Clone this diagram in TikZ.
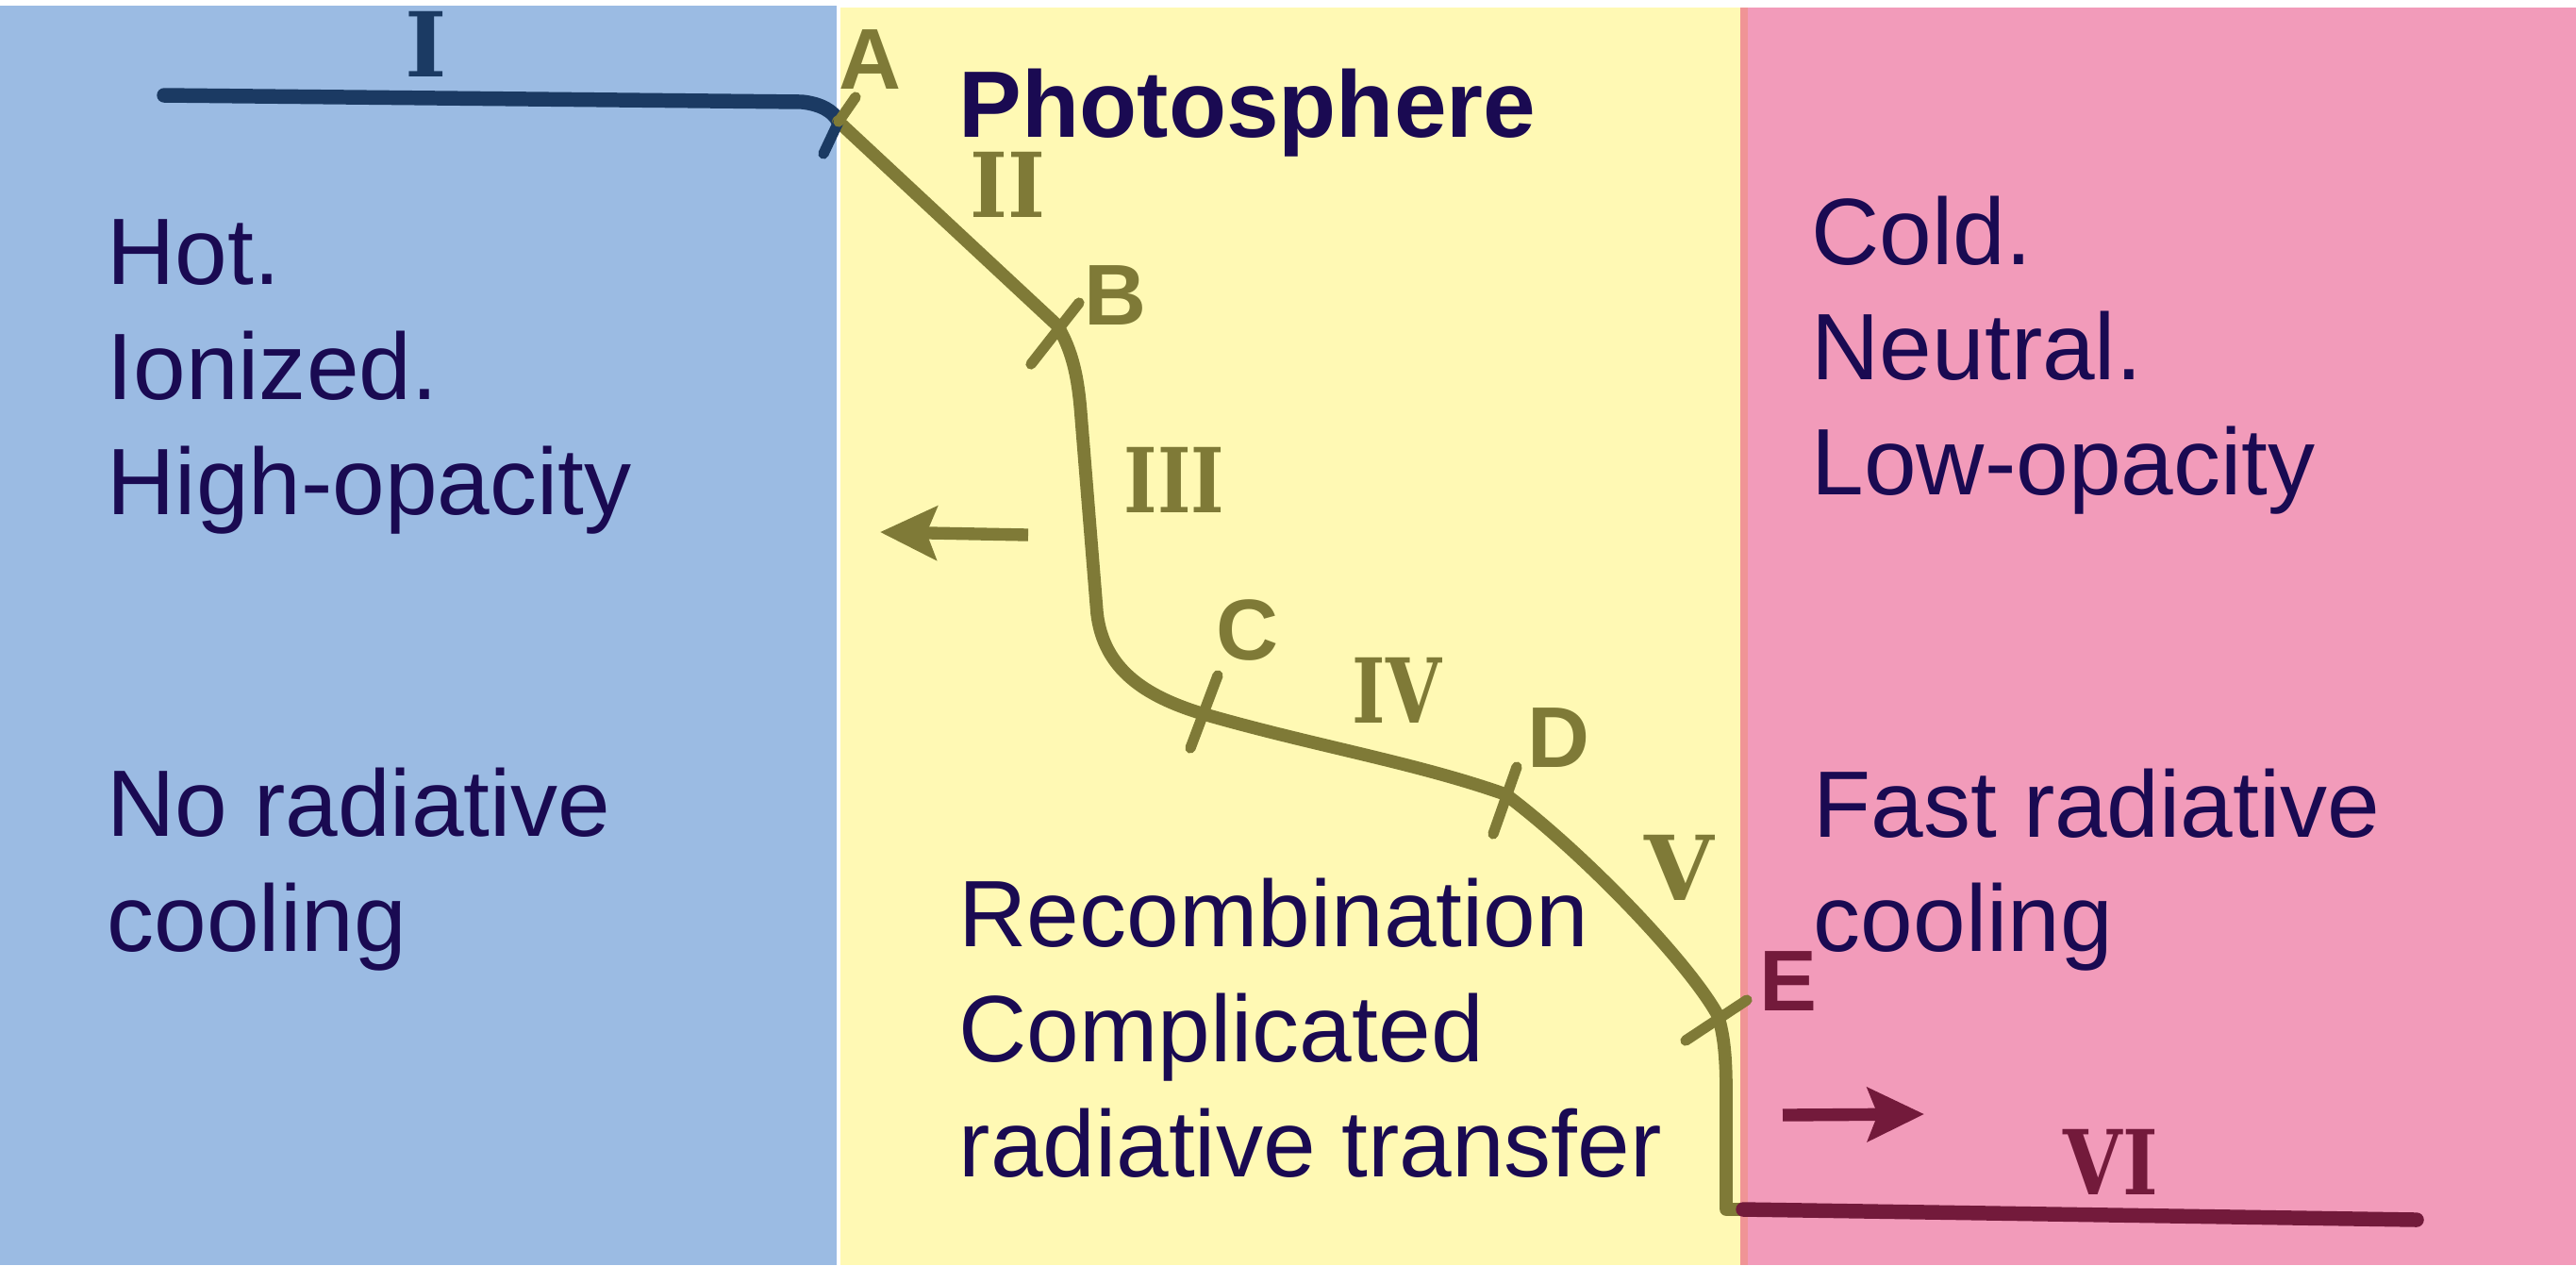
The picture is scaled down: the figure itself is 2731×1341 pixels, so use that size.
\documentclass[tikz,border=0pt]{standalone}
\usepackage{fontspec}
\newfontfamily\txtfont{Liberation Sans}
\newfontfamily\numfont{DejaVu Serif}
\usetikzlibrary{arrows.meta}
\definecolor{bgblue}{RGB}{155,187,227}
\definecolor{bgyellow}{RGB}{255,249,180}
\definecolor{bgpink}{RGB}{242,155,186}
\definecolor{edgesalmon}{RGB}{240,148,150}
\definecolor{curveolive}{RGB}{127,122,55}
\definecolor{lineblue}{RGB}{27,58,99}
\definecolor{curvemaroon}{RGB}{115,26,59}
\definecolor{textnavy}{RGB}{26,10,82}
\begin{document}
\begin{tikzpicture}[x=0.01cm,y=-0.01cm,
  txt/.style={anchor=base west, inner sep=0pt, text=textnavy, font=\txtfont\fontsize{28.45pt}{34pt}\selectfont},
  ptlabel/.style={inner sep=0pt, font=\txtfont\bfseries\fontsize{26pt}{30pt}\selectfont},
  numlabel/.style={inner sep=0pt, font=\numfont\bfseries\fontsize{27pt}{30pt}\selectfont},
  curve/.style={line width=3.9pt, line cap=round, line join=round},
  tickmark/.style={line width=3.2pt, line cap=round},
  arr/.style={line width=3.8pt, -{Stealth[length=17pt,width=16pt,inset=3pt]}}]
\useasboundingbox (0,0) rectangle (2731,1341);
\fill[white] (0,0) rectangle (2731,1341);
\fill[bgblue] (0,6) rectangle (887,1341);
\fill[bgyellow] (891,8) rectangle (1845,1341);
\fill[edgesalmon] (1845,8) rectangle (1853,1341);
\fill[bgpink] (1853,8) rectangle (2731,1341);
% points
\coordinate (A) at (889,129);
\coordinate (B) at (1121,345);
\coordinate (C) at (1273,756);
\coordinate (D) at (1596,842);
\coordinate (E) at (1821,1076);
\coordinate (I0) at (174,101);
\coordinate (I1) at (850,108);
\coordinate (F) at (1830,1282);
\coordinate (G) at (1848,1282);
\coordinate (H) at (2562,1293);
% curve
\draw[curve, lineblue, line width=4.4pt] (I0) -- (I1) .. controls (870,110) and (884,118) .. (A);
\draw[curve, curveolive] (A) -- (B) .. controls (1137,372) and (1143,400) .. (1146,440) -- (1163,650) .. controls (1170,710) and (1215,738) .. (C) .. controls (1390,790) and (1500,808) .. (D) .. controls (1680,905) and (1790,1020) .. (E) .. controls (1829,1100) and (1830,1130) .. (1830,1160) -- (F) -- (G);
\draw[curve, curvemaroon, line width=4.4pt] (G) -- (H);
% ticks
\coordinate (ta1) at (873,163); \coordinate (ta2) at (907,103);
\draw[tickmark, lineblue] (A) -- (ta1);
\draw[tickmark, curveolive] (A) -- (ta2);
\coordinate (tb1) at (1093,386); \coordinate (tb2) at (1144,321);
\draw[tickmark, curveolive] (tb1) -- (tb2);
\coordinate (tc1) at (1262,793); \coordinate (tc2) at (1291,716);
\draw[tickmark, curveolive] (tc1) -- (tc2);
\coordinate (td1) at (1583,884); \coordinate (td2) at (1608,813);
\draw[tickmark, curveolive] (td1) -- (td2);
\coordinate (te1) at (1787,1103); \coordinate (te2) at (1852,1060);
\draw[tickmark, curveolive] (te1) -- (te2);
% point labels
\node[ptlabel, text=curveolive] (la) at (922,63) {A};
\node[ptlabel, text=curveolive] (lb) at (1182,313) {B};
\node[ptlabel, text=curveolive] (lc) at (1322,668) {C};
\node[ptlabel, text=curveolive] (ld) at (1652,782) {D};
\node[ptlabel, text=curvemaroon] (le) at (1896,1040) {E};
% numerals
\node[numlabel, text=lineblue] (n1) at (452,47) {I};
\node[numlabel, text=curveolive] (n2) at (1068,196) {\scalebox{0.9}[1]{II}};
\node[numlabel, text=curveolive] (n3) at (1245,509) {\scalebox{0.8}[1]{III}};
\node[numlabel, text=curveolive] (n4) at (1481,732) {\scalebox{0.8}[1]{IV}};
\node[numlabel, text=curveolive] (n5) at (1780,920) {V};
\node[numlabel, text=curvemaroon] (n6) at (2238,1232) {\scalebox{0.85}[1]{VI}};
% arrows
\coordinate (la0) at (1090,567); \coordinate (la1) at (933,564);
\draw[arr, curveolive] (la0) -- (la1);
\coordinate (ra0) at (1890,1182); \coordinate (ra1) at (2040,1181);
\draw[arr, curvemaroon] (ra0) -- (ra1);
% texts
\node[txt] (hot) at (113,301) {Hot.};
\node[txt] (ion) at (113,423) {Ionized.};
\node[txt] (hiop) at (113,545) {High-opacity};
\node[txt] (norad) at (113,886) {No radiative};
\node[txt] (cool1) at (113,1008) {cooling};
\node[txt, text depth=0pt, font=\txtfont\bfseries\fontsize{28.45pt}{34pt}\selectfont] (photo) at (1016,145) {Photosphere};
\node[txt] (recomb) at (1016,1003) {Recombination};
\node[txt] (compl) at (1016,1125) {Complicated};
\node[txt] (radtr) at (1016,1247) {radiative transfer};
\node[txt] (cold) at (1920,280) {Cold.};
\node[txt] (neut) at (1920,402) {Neutral.};
\node[txt] (lowop) at (1920,524) {Low-opacity};
\node[txt] (fast) at (1922,887) {Fast radiative};
\node[txt] (cool2) at (1922,1008) {cooling};
\end{tikzpicture}
\end{document}
